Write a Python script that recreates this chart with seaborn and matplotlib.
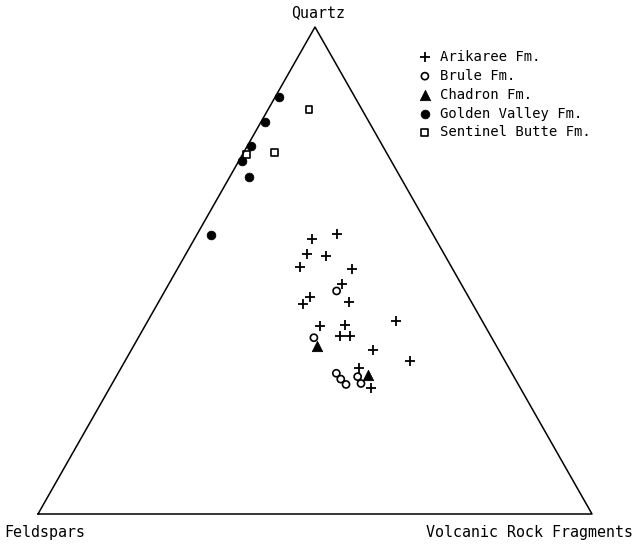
import numpy as np
import pandas as pd
import matplotlib.pyplot as plt
import seaborn as sns

# compositions in percent (Quartz, Feldspars, Volcanic Rock Fragments)
arikaree_q = [56.5, 57.4, 53.4, 52.9, 50.8, 50.3, 47.3, 43.6, 44.5, 43.1, 38.7, 38.9, 36.6, 36.6, 39.7, 33.6, 31.5, 29.9, 25.9]
arikaree_f = [22.3, 17.3, 24.8, 21.5, 27.3, 18.1, 21.5, 22.0, 28.7, 30.7, 29.8, 25.2, 27.2, 25.3, 15.5, 22.8, 17.1, 27.1, 27.0]

brule_q = [45.8, 36.2, 28.9, 27.7, 26.6, 28.2, 26.8]
brule_f = [23.2, 32.1, 31.7, 31.5, 31.1, 28.2, 28.3]

chadron_q = [34.4, 28.5]
chadron_f = [32.5, 26.1]

golden_q = [85.6, 80.4, 75.6, 72.4, 69.2, 57.3]
golden_f = [13.7, 18.8, 23.8, 27.0, 27.3, 40.2]

sentinel_q = [83.0, 74.3, 73.8]
sentinel_f = [9.6, 20.2, 25.4]

groups = [
    ('Arikaree Fm.', arikaree_q, arikaree_f),
    ('Brule Fm.', brule_q, brule_f),
    ('Chadron Fm.', chadron_q, chadron_f),
    ('Golden Valley Fm.', golden_q, golden_f),
    ('Sentinel Butte Fm.', sentinel_q, sentinel_f),
]

rows = []
for name, qs, fs in groups:
    for q, f in zip(qs, fs):
        rows.append({'formation': name, 'Q': q, 'F': f, 'V': 100 - q - f})
df = pd.DataFrame(rows)

# ternary -> cartesian (F bottom left, V bottom right, Q top)
h = np.sqrt(3) / 2
df['x'] = (df['V'] + df['Q'] / 2) / 100
df['y'] = df['Q'] / 100 * h

sns.set_style('white')
plt.rcParams['font.family'] = ['DejaVu Sans Mono']
plt.rcParams['text.color'] = 'black'

fig = plt.figure(figsize=(6.34, 5.46), dpi=100)
ax = fig.add_axes([38 / 634, (546 - 514) / 546, 554 / 634, 487 / 546])
ax.set_xlim(0, 1)
ax.set_ylim(0, h)
ax.axis('off')

# triangle frame
ax.plot([0, 1, 0.5, 0], [0, 0, h, 0], color='black', lw=1.1, clip_on=False)

styles = {
    'Arikaree Fm.': dict(marker='+', s=45, color='black', linewidth=1.3),
    'Brule Fm.': dict(marker='o', s=26, facecolor='none', edgecolor='black', linewidth=1.2),
    'Chadron Fm.': dict(marker='^', s=55, color='black', edgecolor='black'),
    'Golden Valley Fm.': dict(marker='o', s=40, color='black', edgecolor='black'),
    'Sentinel Butte Fm.': dict(marker='s', s=24, facecolor='none', edgecolor='black', linewidth=1.2),
}

for name, _, _ in groups:
    sub = df[df['formation'] == name]
    sns.scatterplot(data=sub, x='x', y='y', ax=ax, label=name, clip_on=False, **styles[name])

leg = ax.legend(loc='upper left', bbox_to_anchor=(411 / 634, 1 - 43 / 546),
                bbox_transform=fig.transFigure, frameon=False, fontsize=10,
                handletextpad=0.59, labelspacing=0.35, handlelength=1.0, borderpad=0)
for t in leg.get_texts():
    t.set_color('black')

fig.text(318 / 634, 1 - 13 / 546, 'Quartz', ha='center', va='center', fontsize=10.8)
fig.text(4 / 634, 1 - 533 / 546, 'Feldspars', ha='left', va='center', fontsize=10.8)
fig.text(633 / 634, 1 - 533 / 546, 'Volcanic Rock Fragments', ha='right', va='center', fontsize=10.8)

fig.savefig('out.png', dpi=100)
